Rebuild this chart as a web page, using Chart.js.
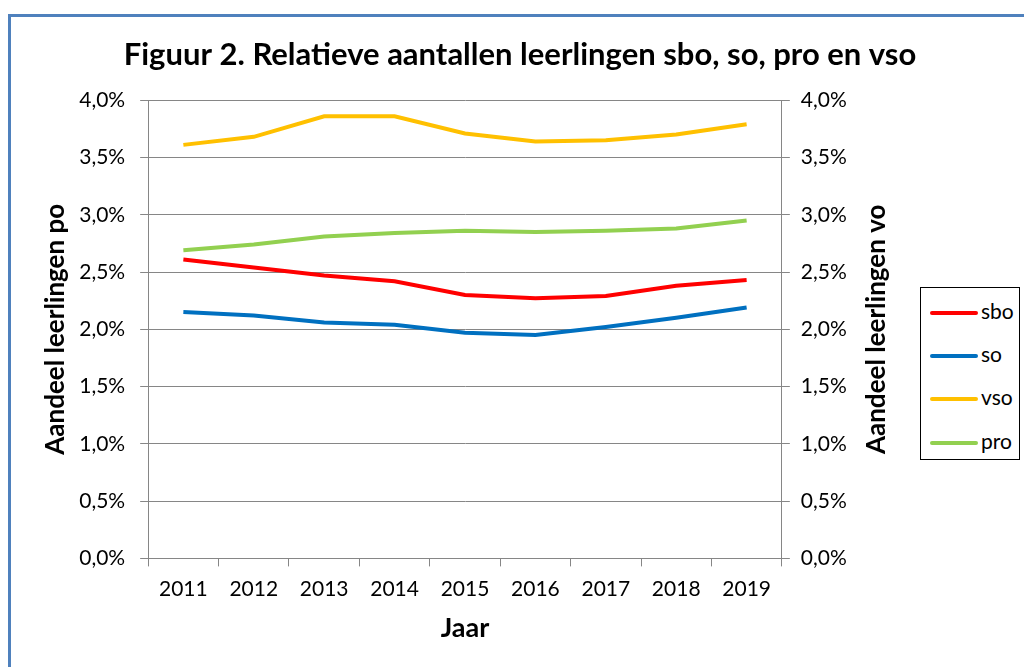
<!DOCTYPE html>
<html>
<head>
<meta charset="utf-8">
<script src="https://cdn.jsdelivr.net/npm/chart.js@4.4.0/dist/chart.umd.min.js"></script>
<style>
  html, body { margin: 0; padding: 0; background: #fff; overflow: hidden; font-family: Lato, sans-serif; }
  #frame { position: absolute; left: 8px; top: 14px; width: 1100px; height: 700px;
           border-left: 3px solid #4f81bd; border-top: 3px solid #4f81bd; }
  #wrap { position: absolute; left: 0; top: 0; width: 1024px; height: 667px; }
  #legend { position: absolute; left: 920px; top: 287px; width: 98px; height: 171px;
            border: 1.5px solid #000; background: #fff; }
  #legend .item { position: absolute; left: 9px; height: 26px; line-height: 26px;
                  font-size: 21px; color: #000; white-space: nowrap; }
  #legend .swatch { display: inline-block; width: 48px; height: 4px; border-radius: 2px;
                    vertical-align: middle; margin-right: 3px; position: relative; top: -1px; }
</style>
</head>
<body>
<div id="frame"></div>
<div id="wrap"><canvas id="chart" width="1024" height="667"></canvas></div>
<div id="legend"></div>
<script>
const years = ['2011', '2012', '2013', '2014', '2015', '2016', '2017', '2018', '2019'];
const sbo = [2.61, 2.54, 2.47, 2.42, 2.30, 2.27, 2.29, 2.38, 2.43];
const so  = [2.15, 2.12, 2.06, 2.04, 1.97, 1.95, 2.02, 2.10, 2.19];
const vso = [3.61, 3.68, 3.86, 3.86, 3.71, 3.64, 3.65, 3.70, 3.79];
const pro = [2.69, 2.74, 2.81, 2.84, 2.86, 2.85, 2.86, 2.88, 2.95];

const FONT = 'Lato';

function pct(value) {
  return value.toFixed(1).replace('.', ',') + '%';
}

function line(label, data, color, axis) {
  return {
    label: label,
    data: data,
    yAxisID: axis,
    borderColor: color,
    backgroundColor: color,
    borderWidth: 4,
    pointRadius: 0,
    tension: 0,
    fill: false
  };
}

// right axis title reads bottom-to-top like the left one
const rightTitle = {
  id: 'rightTitle',
  afterDraw(chart) {
    const s = chart.scales.y1;
    const ctx = chart.ctx;
    ctx.save();
    ctx.translate(s.right - 108 - 15.5, (chart.chartArea.top + chart.chartArea.bottom) / 2);
    ctx.rotate(-Math.PI / 2);
    ctx.font = 'bold 26px ' + FONT;
    ctx.fillStyle = '#000';
    ctx.textAlign = 'center';
    ctx.textBaseline = 'middle';
    ctx.fillText('Aandeel leerlingen vo', 0, 0);
    ctx.restore();
  }
};

const chart = new Chart(document.getElementById('chart').getContext('2d'), {
  type: 'line',
  data: {
    labels: years,
    datasets: [
      line('sbo', sbo, '#ff0000', 'y'),
      line('so', so, '#0070c0', 'y'),
      line('vso', vso, '#ffc000', 'y1'),
      line('pro', pro, '#92d050', 'y1')
    ]
  },
  plugins: [rightTitle],
  options: {
    responsive: false,
    animation: false,
    layout: { padding: { top: 36, left: 40, right: 24, bottom: 23 } },
    plugins: {
      title: {
        display: true,
        text: 'Figuur 2. Relatieve aantallen leerlingen sbo, so, pro en vso',
        color: '#000',
        font: { family: FONT, size: 31, weight: 'bold' },
        padding: { top: 0, bottom: 27 }
      },
      legend: { display: false },
      tooltip: { enabled: false }
    },
    scales: {
      x: {
        offset: true,
        grid: { offset: true, drawOnChartArea: false, drawTicks: true, tickLength: 8, color: '#868686' },
        border: { display: true, color: '#868686' },
        ticks: { color: '#000', font: { family: FONT, size: 21 }, padding: 10 },
        title: { display: true, text: 'Jaar', color: '#000', font: { family: FONT, size: 27, weight: 'bold' }, padding: { top: 0, bottom: 0 } }
      },
      y: {
        position: 'left',
        min: 0,
        max: 4,
        ticks: { stepSize: 0.5, color: '#000', font: { family: FONT, size: 21 }, padding: 15, callback: pct },
        grid: { color: '#868686', tickLength: 8 },
        border: { display: true, color: '#868686' },
        title: { display: true, text: 'Aandeel leerlingen po', color: '#000', font: { family: FONT, size: 26, weight: 'bold' }, padding: { top: 0, bottom: 0 } },
        // tighter gap between axis title and tick labels
        afterFit(scale) { scale.width -= 7; }
      },
      y1: {
        position: 'right',
        min: 0,
        max: 4,
        ticks: { stepSize: 0.5, color: '#000', font: { family: FONT, size: 21 }, padding: 11, callback: pct },
        grid: { drawOnChartArea: false, color: '#868686', tickLength: 8 },
        border: { display: true, color: '#868686' },
        title: { display: true, text: 'Aandeel leerlingen vo', color: 'rgba(0,0,0,0)', font: { family: FONT, size: 26, weight: 'bold' }, padding: { top: 3, bottom: 0 } },
        // room for the legend box on the right
        afterFit(scale) { scale.width += 108; }
      }
    }
  }
});

// html legend built from the chart's datasets
const legendEl = document.getElementById('legend');
const centers = [23, 66, 109, 153];
chart.data.datasets.forEach((ds, i) => {
  const item = document.createElement('div');
  item.className = 'item';
  item.style.top = (centers[i] - 13) + 'px';
  const sw = document.createElement('span');
  sw.className = 'swatch';
  sw.style.background = ds.borderColor;
  item.appendChild(sw);
  item.appendChild(document.createTextNode(ds.label));
  legendEl.appendChild(item);
});
</script>
</body>
</html>
